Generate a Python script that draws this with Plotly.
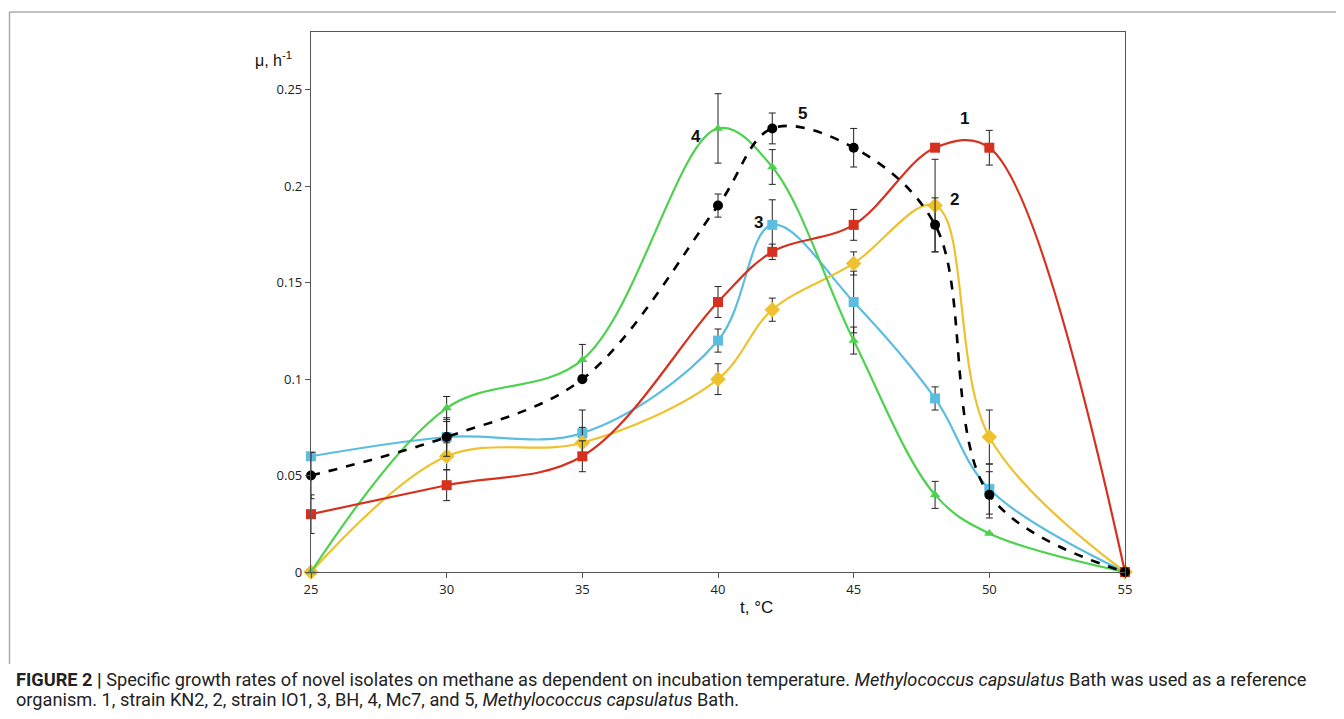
import plotly.graph_objects as go

temps = [25, 30, 35, 40, 42, 45, 48, 50, 55]

kn2 = [0.03, 0.045, 0.06, 0.14, 0.166, 0.18, 0.22, 0.22, 0]
kn2_err = [0.01, 0.008, 0.008, 0.008, 0.004, 0.008, None, 0.009, None]

io1 = [0, 0.06, 0.067, 0.10, 0.136, 0.16, 0.19, 0.07, 0]
io1_err = [None, 0.007, 0.008, 0.008, 0.006, 0.006, 0.024, 0.014, None]

bh = [0.06, 0.07, 0.072, 0.12, 0.18, 0.14, 0.09, 0.043, 0]
bh_err = [None, 0.008, 0.012, 0.006, 0.013, 0.016, 0.006, 0.013, None]

mc7 = [0, 0.085, 0.11, 0.23, 0.21, 0.12, 0.04, 0.02, 0]
mc7_err = [None, 0.006, 0.008, 0.018, 0.009, 0.007, 0.007, None, None]

bath = [0.05, 0.07, 0.10, 0.19, 0.23, 0.22, 0.18, 0.04, 0]
bath_err = [0.012, 0.01, None, 0.006, 0.008, 0.01, 0.014, 0.012, None]

curve_labels = ["1", "2", "3", "4", "5"]
label_x = [49.1, 48.7, 41.5, 39.2, 43.1]
label_y = [0.235, 0.193, 0.181, 0.226, 0.238]

y_ticks = [0, 0.05, 0.1, 0.15, 0.2, 0.25]
y_tick_text = ["0", "0.05", "0.1", "0.15", "0.2", "0.25"]
x_ticks = [25, 30, 35, 40, 45, 50, 55]

fig = go.Figure()

def err(arr):
    return dict(type="data", array=arr, visible=True, color="#222222",
                thickness=1, width=3.5)

series = [
    (bh, bh_err, "#5BBDE0", "square", 10, "solid"),
    (io1, io1_err, "#EEC22E", "diamond", 12, "solid"),
    (mc7, mc7_err, "#4ED14E", "triangle-up", 9, "solid"),
    (kn2, kn2_err, "#D7301E", "square", 10, "solid"),
    (bath, bath_err, "#000000", "circle", 10, "dash"),
]

for ys, es, col, sym, sz, dash in series:
    fig.add_trace(go.Scatter(
        x=temps, y=ys, mode="lines+markers",
        line=dict(color=col, width=2.2 if dash == "solid" else 2.6,
                  shape="spline", smoothing=1.0, dash=dash),
        marker=dict(color=col, symbol=sym, size=sz),
        error_y=err(es), showlegend=False, cliponaxis=False,
    ))

for t, lx, ly in zip(curve_labels, label_x, label_y):
    fig.add_annotation(x=lx, y=ly, text="<b>" + t + "</b>", showarrow=False,
                       font=dict(family="Liberation Sans, Arial", size=17, color="#111"))

axis_font = dict(family="Open Sans, DejaVu Sans", size=13, color="#222")

# The page adds an 8px body margin, so the figure is 16px smaller and offset.
fig.update_layout(
    width=1328, height=703,
    margin=dict(l=303, r=211, t=24, b=139),
    paper_bgcolor="white", plot_bgcolor="white",
    xaxis=dict(range=[25, 55], tickvals=x_ticks, showgrid=False, zeroline=False,
               showline=True, linecolor="#555", linewidth=1.2, mirror=True,
               ticks="outside", ticklen=5, tickcolor="#555", tickfont=axis_font),
    yaxis=dict(range=[0, 0.28], tickvals=y_ticks, ticktext=y_tick_text,
               showgrid=False, zeroline=False,
               showline=True, linecolor="#555", linewidth=1.2, mirror=True,
               ticks="outside", ticklen=5, tickcolor="#555", tickfont=axis_font),
)

# axis titles
fig.add_annotation(xref="paper", yref="paper", x=(253 - 311) / 814, y=(572 - 47) / 540,
                   text="μ, h<sup>-1</sup>", showarrow=False,
                   font=dict(family="Liberation Sans, Arial", size=16, color="#111"))
fig.add_annotation(xref="paper", yref="paper", x=(756 - 311) / 814, y=(572 - 619) / 540,
                   text="t, °C", showarrow=False,
                   font=dict(family="Liberation Sans, Arial", size=17, color="#111"))

# figure frame (top and left lines)
fx0 = (9.5 - 311) / 814
fy_top = (572 - 12) / 540
fy_bot = (572 - 664) / 540
fx1 = (1344 - 311) / 814
fig.add_shape(type="line", xref="paper", yref="paper", x0=fx0, x1=fx1, y0=fy_top, y1=fy_top,
              line=dict(color="#aaaaaa", width=1.5))
fig.add_shape(type="line", xref="paper", yref="paper", x0=fx0, x1=fx0, y0=fy_top, y1=fy_bot,
              line=dict(color="#aaaaaa", width=1.5))

cap_font = dict(family="Roboto, Liberation Sans", size=18.2, color="#222")
line1 = ("<b>FIGURE 2</b> <b>|</b> Specific growth rates of novel isolates on methane as dependent on "
         "incubation temperature. <i>Methylococcus capsulatus</i> Bath was used as a reference")
line2 = ("organism. 1, strain KN2, 2, strain IO1, 3, BH, 4, Mc7, and 5, "
         "<i>Methylococcus capsulatus</i> Bath.")
fig.add_annotation(xref="paper", yref="paper", x=(14 - 311) / 814, y=(572 - 679) / 540,
                   xanchor="left", yanchor="middle", text=line1, showarrow=False, font=cap_font)
fig.add_annotation(xref="paper", yref="paper", x=(14 - 311) / 814, y=(572 - 699) / 540,
                   xanchor="left", yanchor="middle", text=line2, showarrow=False, font=cap_font)

fig.write_html("out.html")
